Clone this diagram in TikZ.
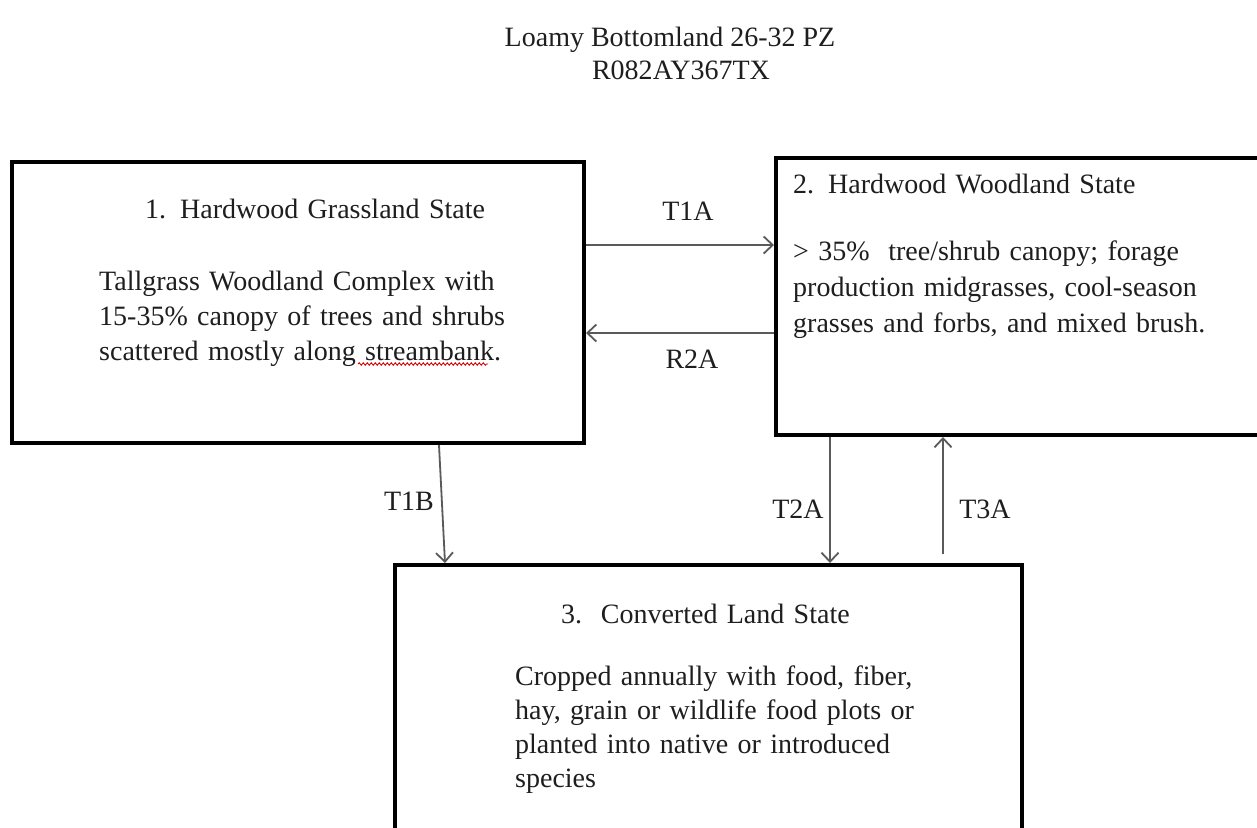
\documentclass[tikz,border=0pt]{standalone}
\usepackage{fontspec}
\setmainfont{Liberation Serif}
\usetikzlibrary{arrows.meta,calc,decorations.pathmorphing}
\definecolor{txt}{HTML}{1E1E1E}
\definecolor{arrc}{HTML}{5A5A5A}
\tikzset{
  statebox/.style={draw=black, line width=4pt, rectangle, inner sep=0pt},
  body/.style={anchor=base west, inner sep=0pt, text width=520pt, align=left, text=txt,
    font=\fontsize{28}{35}\selectfont},
  lbl/.style={anchor=base, inner sep=0pt, text=txt, font=\fontsize{28}{35}\selectfont},
  arr/.style={draw=arrc, line width=1.8pt, -{Straight Barb[length=9pt,width=17pt]}},
}
\begin{document}
\begin{tikzpicture}[x=1pt,y=-1pt]
\useasboundingbox (0,0) rectangle (1257,827);
\clip (0,0) rectangle (1257,827);
\fill[white] (0,0) rectangle (1257,827);

% title
\node[lbl] (title1) at (670,46) {Loamy Bottomland 26-32 PZ};
\node[lbl] (title2) at (681,79) {R082AY367TX};

% boxes
\node[statebox, minimum width=572.5pt, minimum height=281pt] (b1) at (297.75,302.5) {};
\node[statebox, minimum width=544pt, minimum height=277pt] (b2) at (1048,296.5) {};
\node[statebox, minimum width=627pt, minimum height=335pt] (b3) at (708.5,732.5) {};

% box texts
\node[body] (b1t) at (145,218) {1. Hardwood Grassland State};
\node[body] (b1b) at (99,290) {Tallgrass Woodland Complex with\\15-35\% canopy of trees and shrubs\\scattered mostly along streambank.};
\node[body] (b2t) at (793,193) {2. Hardwood Woodland State};
\node[body, font=\fontsize{28}{36}\selectfont] (b2b) at (793,260) {> 35\%\ \ tree/shrub canopy; forage\\production midgrasses, cool-season\\grasses and forbs, and mixed brush.};
\node[body] (b3t) at (561,623) {3.\ \ Converted Land State};
\node[body, font=\fontsize{28}{34}\selectfont] (b3b) at (515,685) {Cropped annually with food, fiber,\\hay, grain or wildlife food plots or\\planted into native or introduced\\species};

% spelling squiggle
\draw[red!85!black, line width=0.9pt, decorate, decoration={snake, amplitude=1.2pt, segment length=4pt}] (358,364) -- (488,364);

% connectors
\coordinate (t1a) at ($(b1.east)+(0,-57.5)$);
\draw[arr] (t1a) -- (t1a -| b2.west);
\coordinate (r2a) at ($(b2.west)+(0,36.5)$);
\draw[arr] (r2a) -- (r2a -| b1.east);
\coordinate (t1bs) at ($(b1.south)+(141.25,0)$);
\coordinate (t1be) at ($(b3.north)+(-263.5,0)$);
\draw[arr] (t1bs) -- (t1be);
\coordinate (t2a) at ($(b2.south)+(-218,0)$);
\draw[arr] (t2a) -- (t2a |- b3.north);
\coordinate (t3a) at ($(b3.north)+(234.5,0)$);
\draw[arr, shorten <=9pt] (t3a) -- (t3a |- b2.south);

% connector labels
\node[lbl] (l1) at (688,220) {T1A};
\node[lbl] (l2) at (692,368) {R2A};
\node[lbl] (l3) at (409,510) {T1B};
\node[lbl] (l4) at (798,518) {T2A};
\node[lbl] (l5) at (985,518) {T3A};
\end{tikzpicture}
\end{document}
